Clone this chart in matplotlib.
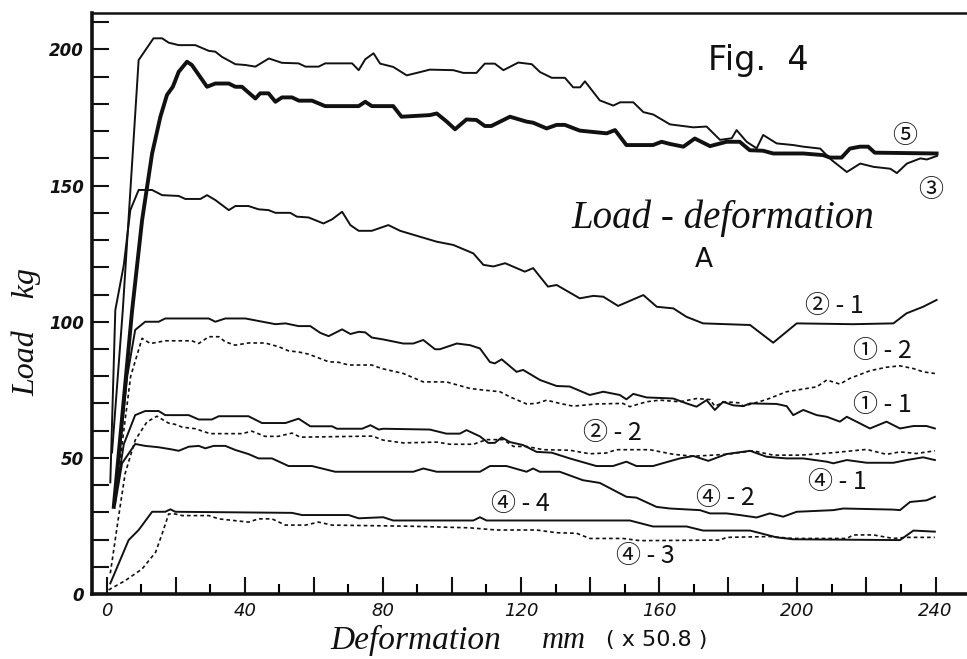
"""Load-deformation curves (Fig. 4, series A), redrawn from a hand-plotted figure."""

import matplotlib

matplotlib.use("Agg")
import matplotlib.pyplot as plt
from matplotlib.ticker import FuncFormatter, MultipleLocator

# Curves as (deformation, load) pairs
CURVE_3 = [
    (1.6, 52), (4.7, 104), (9.3, 196.1), (13.6, 204.1), (16.1, 204.1), (18.0, 202.5),
    (20.9, 201.6), (25.7, 201.6), (29.6, 199.5), (31.5, 199.2), (33.4, 197.3),
    (37.3, 194.6), (40.2, 194.3), (43.1, 193.7), (47.0, 196.7), (50.8, 195.1),
    (55.6, 194.9), (57.6, 193.7), (61.4, 193.7), (63.3, 194.9), (71.1, 194.9),
    (73.0, 192.4), (74.9, 196.4), (77.3, 198.6), (79.2, 194.8), (83.0, 193.6),
    (86.9, 190.5), (90.8, 191.7), (93.6, 192.6), (100.4, 192.4), (103.3, 191.4),
    (107.1, 191.4), (109.5, 194.8), (112.4, 194.8), (114.9, 192.4), (119.2, 195.2),
    (123.1, 194.6), (125.5, 191.7), (128.9, 189.6), (132.7, 189.6), (135.1, 186.1),
    (137.1, 186.1), (138.5, 188.3), (142.8, 181.3), (146.7, 179.4), (148.7, 180.6),
    (152.5, 180.6), (155.4, 177.0), (158.3, 176.1), (163.1, 172.5), (169.9, 171.4),
    (173.7, 171.7), (177.6, 166.8), (181.0, 167.4), (182.4, 170.4), (185.3, 166.1),
    (188.2, 163.7), (190.1, 168.6), (194.0, 165.5), (198.8, 164.9), (201.7, 164.3),
    (206.6, 163.6), (208.0, 161.8), (210.0, 159.3), (214.3, 155.0), (218.2, 158.1),
    (222.0, 156.9), (226.9, 156.2), (228.8, 154.6), (231.7, 158.1), (235.6, 160.0),
    (237.5, 159.6), (240.4, 160.9),
]
CURVE_5 = [
    (2.1, 32), (7.4, 104), (10.3, 137.3), (13.2, 161.8), (15.6, 175.3), (17.5, 183.3),
    (19.2, 186.3), (20.9, 191.8), (23.3, 195.5), (24.7, 194.3), (29.1, 186.3),
    (31.5, 187.5), (35.4, 187.5), (37.3, 186.3), (39.2, 186.3), (43.1, 182.0),
    (44.5, 183.9), (46.9, 183.9), (48.9, 180.8), (50.8, 182.4), (53.7, 182.4),
    (55.7, 181.2), (59.5, 181.2), (63.3, 179.2), (73.0, 179.2), (74.9, 180.8),
    (76.8, 179.2), (83.0, 179.2), (85.4, 175.3), (93.6, 175.9), (95.6, 176.5),
    (98.5, 173.5), (100.9, 170.7), (104.2, 174.3), (107.1, 174.1), (109.5, 171.9),
    (111.4, 171.9), (116.8, 175.3), (121.6, 173.5), (123.5, 173.1), (127.4, 171.0),
    (130.3, 172.3), (132.7, 172.3), (137.0, 170.2), (144.8, 169.2), (147.2, 170.4),
    (150.5, 164.9), (158.2, 164.9), (160.7, 166.1), (163.1, 165.3), (167.0, 164.3),
    (170.3, 167.3), (174.7, 164.5), (179.5, 166.1), (183.3, 166.1), (186.2, 163.0),
    (190.1, 162.8), (193.0, 161.8), (201.7, 161.8), (207.5, 161.2), (209.4, 160.3),
    (212.8, 160.3), (215.2, 163.6), (218.1, 164.3), (220.5, 164.3), (222.4, 162.1),
    (240.3, 161.8),
]
CURVE_2_1 = [
    (1.1, 41), (2.55, 104.3), (5.0, 120.8), (6.9, 141.0), (9.3, 148.4), (13.2, 148.4),
    (16.1, 146.5), (20.9, 146.2), (22.8, 145.1), (27.2, 145.1), (29.1, 146.5),
    (31.5, 144.7), (35.4, 141.0), (37.3, 142.5), (41.1, 142.5), (44.0, 141.3),
    (46.9, 141.0), (48.9, 140.0), (53.2, 140.0), (55.1, 138.6), (58.5, 138.3),
    (62.8, 136.1), (65.3, 137.6), (68.2, 140.4), (70.6, 135.5), (73.0, 133.4),
    (76.8, 133.4), (81.6, 135.5), (85.0, 133.4), (90.8, 131.2), (95.6, 129.4),
    (100.4, 128.2), (106.2, 125.1), (109.1, 120.9), (112.0, 120.3), (115.4, 121.5),
    (121.1, 118.4), (123.5, 119.7), (127.8, 112.9), (130.3, 113.5), (137.0, 108.6),
    (140.9, 109.5), (143.8, 109.2), (148.1, 105.8), (155.4, 109.8), (159.3, 105.5),
    (164.1, 104.9), (167.9, 101.8), (172.7, 99.4), (186.3, 98.8), (193.0, 92.3),
    (199.8, 99.4), (216.2, 99.1), (227.8, 99.4), (231.6, 103.1), (236.4, 105.5),
    (240.3, 108.0),
]
CURVE_1_1 = [
    (2.3, 33), (6.0, 80), (8.3, 97.0), (11.2, 100.0), (15.1, 100.0), (17.0, 101.2),
    (29.6, 101.2), (31.5, 100.0), (34.4, 101.2), (40.2, 101.2), (48.9, 99.1),
    (51.8, 99.4), (55.6, 98.4), (59.0, 98.4), (61.9, 95.9), (64.3, 94.7), (68.2, 97.2),
    (70.6, 95.5), (73.0, 96.3), (74.9, 96.1), (76.8, 94.2), (80.1, 93.5), (85.9, 92.0),
    (88.8, 92.0), (91.7, 93.3), (95.1, 89.9), (96.5, 89.9), (101.4, 92.0),
    (105.2, 91.4), (108.1, 90.2), (111.0, 85.2), (112.4, 84.7), (114.4, 86.2),
    (118.7, 81.6), (120.6, 82.3), (125.5, 78.6), (130.3, 76.4), (134.1, 76.2),
    (139.9, 73.1), (143.8, 74.3), (148.6, 73.1), (150.5, 71.5), (152.5, 73.5),
    (156.3, 72.2), (164.1, 71.8), (167.9, 70.0), (170.8, 68.8), (173.7, 71.2),
    (176.1, 67.6), (178.5, 70.6), (181.4, 69.3), (184.3, 69.0), (186.3, 70.0),
    (194.0, 69.8), (196.9, 69.0), (198.8, 65.7), (201.7, 67.6), (205.6, 65.7),
    (208.5, 65.1), (212.3, 63.3), (214.3, 65.1), (221.0, 60.8), (225.8, 63.3),
    (229.7, 60.8), (233.6, 61.7), (237.4, 61.7), (239.8, 60.8),
]
CURVE_1_2 = [
    (2.3, 33), (7.0, 80), (10.3, 93.9), (12.7, 92.0), (17.0, 93.0), (24.7, 93.0),
    (26.7, 92.0), (29.6, 94.5), (32.5, 94.5), (34.4, 92.6), (37.3, 91.4), (41.1, 92.2),
    (45.9, 92.2), (49.9, 90.8), (52.7, 89.3), (55.6, 88.9), (58.5, 88.1), (64.3, 85.3),
    (67.2, 85.1), (70.1, 84.1), (76.8, 84.1), (79.7, 82.8), (85.9, 81.0), (91.7, 77.9),
    (98.4, 77.9), (105.2, 75.5), (109.1, 74.9), (113.9, 74.3), (116.8, 72.4),
    (121.6, 69.8), (124.5, 70.0), (127.4, 71.2), (131.2, 70.0), (135.1, 69.0),
    (141.8, 69.8), (149.5, 70.0), (151.5, 68.8), (156.3, 70.6), (160.2, 71.2),
    (166.0, 70.6), (170.8, 71.8), (174.7, 71.4), (176.1, 69.0), (179.0, 70.6),
    (183.3, 70.2), (184.3, 69.0), (187.2, 70.0), (191.0, 71.4), (196.9, 74.3),
    (200.8, 75.1), (205.6, 76.1), (208.5, 78.6), (212.3, 77.1), (215.2, 79.2),
    (221.0, 82.0), (225.8, 83.3), (229.7, 83.8), (233.6, 82.8), (236.4, 81.6),
    (239.8, 81.0),
]
CURVE_4_1 = [
    (2.3, 33), (5.0, 55), (8.3, 65.7), (11.2, 67.2), (15.1, 67.2), (17.0, 65.7),
    (23.8, 65.7), (26.7, 64.1), (30.5, 64.1), (32.5, 65.3), (41.1, 65.3), (45.0, 62.8),
    (51.8, 62.8), (55.6, 64.4), (59.0, 61.6), (65.3, 61.6), (66.7, 60.7), (74.0, 60.7),
    (76.4, 62.0), (78.8, 60.4), (80.1, 60.7), (93.6, 60.4), (98.4, 58.9),
    (102.3, 58.9), (104.2, 60.2), (108.1, 57.9), (110.5, 55.5), (112.4, 55.5),
    (114.4, 57.5), (116.8, 55.8), (120.6, 54.7), (124.5, 52.2), (128.9, 51.9),
    (134.1, 49.8), (141.8, 47.0), (146.6, 47.0), (150.5, 48.6), (153.4, 47.0),
    (158.2, 47.0), (162.6, 48.6), (166.0, 49.8), (169.9, 50.7), (174.2, 48.9),
    (179.5, 51.4), (186.3, 52.6), (191.1, 50.4), (196.9, 49.8), (201.7, 49.8),
    (208.5, 48.6), (210.4, 48.0), (214.3, 49.2), (220.1, 48.2), (227.8, 48.2),
    (231.6, 49.2), (236.4, 50.2), (239.8, 49.2),
]
CURVE_2_2 = [
    (1.1, 7.6), (3.5, 28.4), (5.4, 44.3), (8.3, 56.5), (11.7, 63.2), (14.6, 65.3),
    (17.9, 62.8), (19.9, 62.3), (21.9, 61.3), (25.7, 60.7), (30.0, 58.9), (39.2, 58.9),
    (42.1, 59.8), (45.9, 57.9), (49.7, 57.9), (53.7, 59.1), (56.1, 57.6), (77.0, 58.0),
    (80.1, 56.5), (85.9, 55.5), (95.6, 55.8), (99.4, 55.0), (106.2, 55.0),
    (110.0, 56.7), (114.9, 56.7), (117.8, 54.2), (121.6, 54.2), (126.4, 53.0),
    (134.1, 52.8), (139.9, 51.5), (144.7, 51.8), (147.6, 53.0), (157.3, 53.0),
    (164.1, 51.3), (169.9, 50.6), (179.5, 51.3), (187.2, 52.6), (193.0, 51.0),
    (200.8, 51.0), (210.4, 51.9), (220.0, 53.1), (225.8, 51.3), (229.7, 52.2),
    (234.5, 51.6), (239.8, 52.6),
]
CURVE_4_2 = [
    (2.5, 33), (4.5, 48.0), (8.3, 55.1), (11.2, 54.4), (15.1, 53.9), (18.9, 53.1),
    (20.9, 52.6), (23.8, 54.1), (26.7, 54.4), (28.6, 53.5), (31.0, 54.4), (34.4, 54.4),
    (37.3, 52.9), (41.1, 51.4), (44.0, 49.8), (47.9, 49.8), (52.7, 47.0), (59.5, 47.0),
    (66.2, 44.9), (88.8, 44.9), (91.7, 46.1), (95.6, 44.9), (108.1, 44.9),
    (111.0, 47.0), (115.8, 47.0), (121.6, 44.9), (123.5, 46.1), (125.4, 44.9),
    (131.2, 44.9), (137.9, 41.8), (142.8, 40.8), (150.5, 35.7), (153.4, 35.4),
    (159.2, 32.0), (163.1, 31.4), (171.8, 30.8), (174.7, 29.6), (179.5, 29.6),
    (183.3, 29.0), (188.2, 28.1), (192.0, 29.6), (195.9, 28.4), (199.8, 30.2),
    (210.4, 30.8), (213.3, 31.4), (227.8, 31.0), (229.7, 30.8), (232.6, 33.8),
    (237.4, 34.4), (239.8, 35.7),
]
CURVE_4_4 = [
    (1.1, 3.9), (6.4, 19.8), (9.3, 23.5), (13.2, 30.2), (17.0, 30.2), (18.5, 31.1),
    (19.9, 30.2), (53.7, 29.8), (56.6, 29.0), (70.1, 29.0), (73.0, 27.8), (80.1, 28.2),
    (83.0, 27.0), (106.2, 27.0), (108.1, 28.2), (110.0, 27.0), (151.5, 27.0),
    (158.2, 24.8), (167.9, 24.8), (172.7, 23.3), (186.3, 23.3), (194.0, 20.8),
    (198.8, 20.1), (229.7, 19.8), (233.6, 23.3), (239.8, 22.9),
]
CURVE_4_3 = [
    (0.6, 1.5), (5.4, 4.9), (10.3, 9.2), (14.2, 15.3), (16.1, 22.1), (18.0, 29.4),
    (19.9, 29.4), (21.9, 28.8), (29.6, 28.8), (32.5, 27.6), (41.1, 26.4), (44.0, 27.6),
    (47.9, 27.6), (51.8, 25.3), (57.6, 25.3), (61.4, 26.4), (65.3, 25.3), (87.8, 24.9),
    (105.2, 24.3), (112.9, 23.5), (124.5, 23.5), (130.3, 22.5), (136.1, 22.3),
    (139.9, 20.4), (149.5, 20.4), (154.4, 19.6), (177.6, 19.8), (179.5, 20.8),
    (192.0, 21.1), (198.8, 20.4), (214.3, 20.4), (216.2, 21.7), (222.0, 21.7),
    (227.8, 20.4), (231.6, 20.8), (239.8, 20.8),
]

# curve label text and its anchor (left edge, vertical centre) in data units
LABELS = [
    ("⑤", 227.3, 168.2),
    ("③", 235.1, 148.5),
    ("② - 1", 202.3, 105.8),
    ("① - 2", 216.1, 89.2),
    ("① - 1", 216.1, 69.4),
    ("② - 2", 138.0, 59.3),
    ("④ - 1", 203.1, 41.3),
    ("④ - 2", 170.7, 35.1),
    ("④ - 4", 111.4, 33.2),
    ("④ - 3", 147.6, 14.0),
]

INK = "#111111"
SOLID_THIN = dict(color=INK, linewidth=1.4, linestyle="-")
SOLID_THICK = dict(color=INK, linewidth=2.8, linestyle="-")
DOTTED = dict(color=INK, linewidth=1.2, linestyle=(0, (2.2, 1.8)))

fig = plt.figure(figsize=(9.67, 6.59), dpi=100)
ax = fig.add_axes([92 / 967, 1 - 594 / 659, 875 / 967, 581 / 659])

series = [
    (CURVE_3, SOLID_THIN),
    (CURVE_5, SOLID_THICK),
    (CURVE_2_1, SOLID_THIN),
    (CURVE_1_1, SOLID_THIN),
    (CURVE_1_2, DOTTED),
    (CURVE_4_1, SOLID_THIN),
    (CURVE_2_2, DOTTED),
    (CURVE_4_2, SOLID_THIN),
    (CURVE_4_4, SOLID_THIN),
    (CURVE_4_3, DOTTED),
]
for curve, style in series:
    xs, ys = zip(*curve)
    ax.plot(xs, ys, solid_joinstyle="round", dash_joinstyle="round", **style)

for text, x, y in LABELS:
    ax.text(x, y, text, fontsize=18, ha="left", va="center", color=INK,
            family=["Noto Sans CJK JP", "DejaVu Sans"])

ax.set_xlim(-4.2, 249.1)
ax.set_ylim(0, 213.4)

ax.xaxis.set_major_locator(MultipleLocator(20))
ax.xaxis.set_minor_locator(MultipleLocator(10))
ax.xaxis.set_major_formatter(FuncFormatter(lambda v, _: f"{v:.0f}" if v % 40 == 0 else ""))
ax.yaxis.set_major_locator(MultipleLocator(10))
ax.yaxis.set_major_formatter(FuncFormatter(lambda v, _: f"{v:.0f}" if v % 50 == 0 else ""))
ax.tick_params(axis="x", which="major", direction="in", length=12, width=1.5, pad=6,
               labelsize=13, colors=INK)
ax.tick_params(axis="x", which="minor", direction="in", length=7, width=1.5)
ax.tick_params(axis="y", which="major", direction="in", length=12, width=1.5, pad=6,
               labelsize=12, colors=INK)
for lab in ax.get_xticklabels() + ax.get_yticklabels():
    lab.set_fontstyle("italic")
for lab in ax.get_yticklabels():
    lab.set_fontweight("bold")

ax.spines["right"].set_visible(False)
ax.spines["top"].set_linewidth(1.8)
ax.spines["left"].set_linewidth(2.6)
ax.spines["bottom"].set_linewidth(2.6)
for side in ("top", "left", "bottom"):
    ax.spines[side].set_color(INK)

# titles written inside the plot
ax.text(188.6, 196, "Fig.  4", fontsize=24, ha="center", va="center", color=INK)
ax.text(178.5, 138, "Load - deformation", fontsize=28, ha="center", va="center",
        color=INK, family="Liberation Serif", style="italic")
ax.text(173.0, 122.7, "A", fontsize=19, ha="center", va="center", color=INK)

# axis titles
fig.text(27 / 967, 1 - 332 / 659, "Load    kg", rotation=90, fontsize=23, ha="center",
         va="center", color=INK, family="Liberation Serif", style="italic")
fig.text(416 / 967, 1 - 640 / 659, "Deformation", fontsize=24, ha="center", va="center",
         color=INK, family="Liberation Serif", style="italic")
fig.text(564 / 967, 1 - 640 / 659, "mm", fontsize=22, ha="center", va="center",
         color=INK, family="Liberation Serif", style="italic")
fig.text(657 / 967, 1 - 640 / 659, "( x 50.8 )", fontsize=16, ha="center", va="center",
         color=INK)

fig.savefig("out.png", dpi=100)
